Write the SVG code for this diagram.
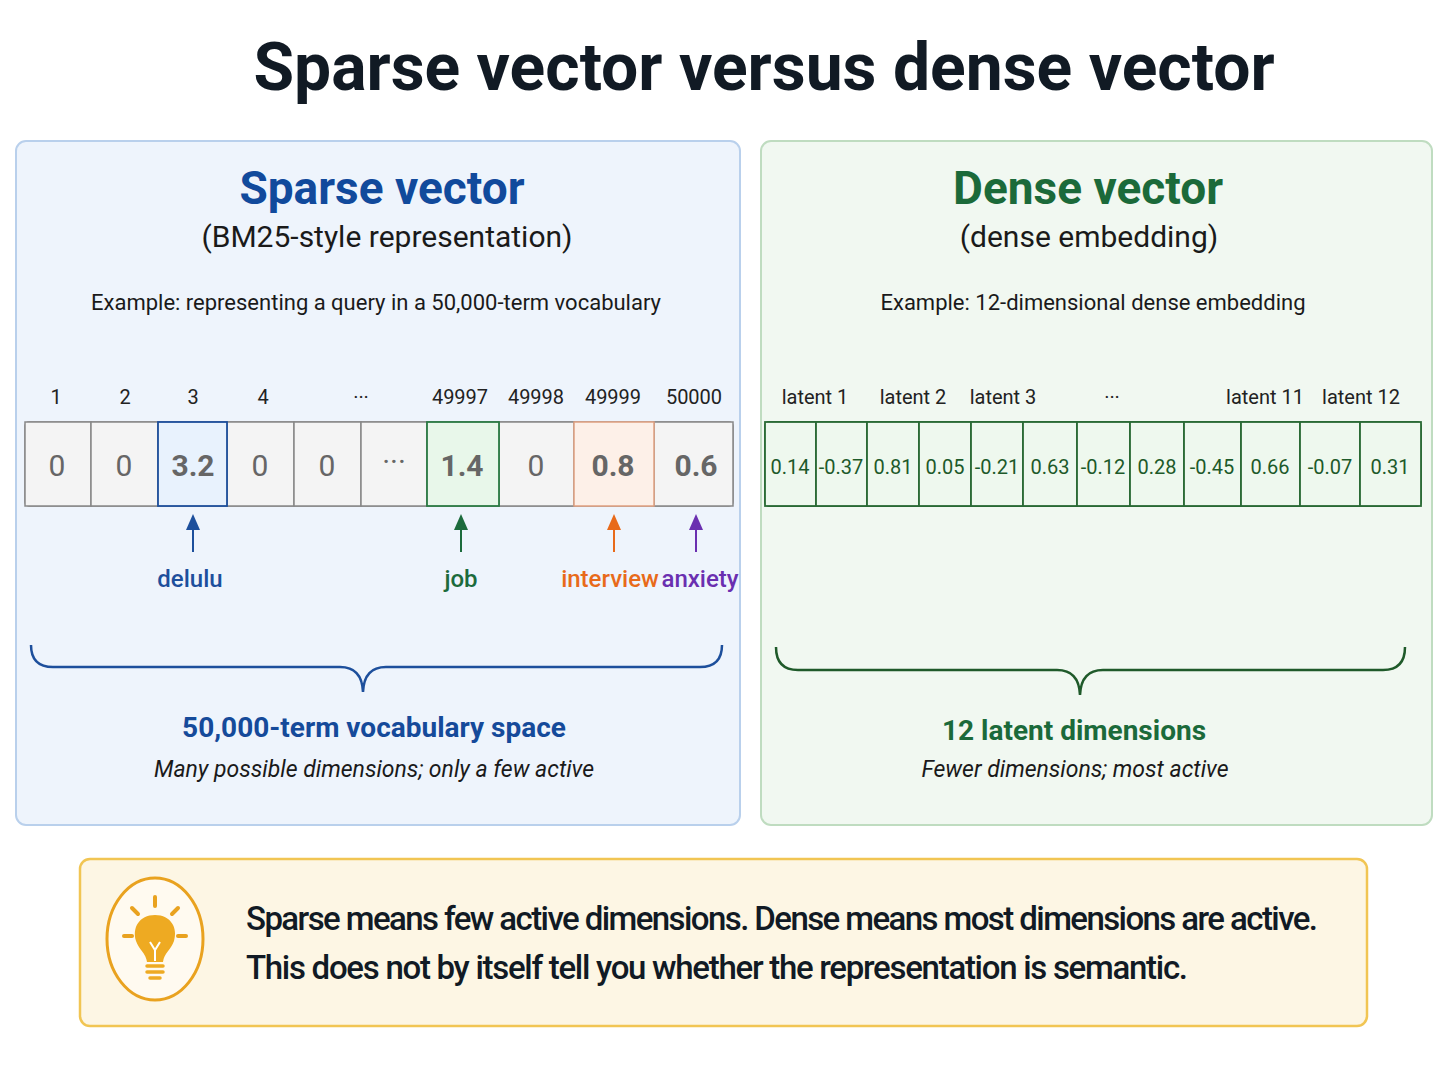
<svg xmlns="http://www.w3.org/2000/svg" width="1448" height="1086" viewBox="0 0 1448 1086">
<style>
text{font-family:Roboto,"Liberation Sans",sans-serif}
.t{fill:#111a24;font-weight:700}
.idx{font-size:20px;fill:#222;text-anchor:middle}
.sc{fill:#f4f4f4;stroke:#888;stroke-width:1.5}
.sv{font-size:30px;text-anchor:middle;fill:#666}
.dc{fill:#eef8ee;stroke:#2a6a35;stroke-width:1.8}
.dv{font-size:20px;text-anchor:middle;fill:#1d5a2a}
.lab{font-size:24px;font-weight:500;text-anchor:middle}
</style>
<rect width="1448" height="1086" fill="#ffffff"/>
<text x="764" y="90" class="t" font-size="66" text-anchor="middle">Sparse vector versus dense vector</text>

<g id="sparse-panel">
<rect x="16" y="141" width="724" height="684" rx="10" fill="#eef4fc" stroke="#b9d0ec" stroke-width="2"/>
<text x="382" y="204" font-size="46" font-weight="700" fill="#114a9c" text-anchor="middle">Sparse vector</text>
<text x="387" y="247" font-size="30" fill="#1a1a1a" text-anchor="middle">(BM25-style representation)</text>
<text x="376" y="310" font-size="22" fill="#1a1a1a" text-anchor="middle">Example: representing a query in a 50,000-term vocabulary</text>
<g>
<text x="56" y="404" class="idx">1</text><text x="125" y="404" class="idx">2</text><text x="193" y="404" class="idx">3</text><text x="263" y="404" class="idx">4</text><text x="361" y="404" class="idx">···</text><text x="460" y="404" class="idx">49997</text><text x="536" y="404" class="idx">49998</text><text x="613" y="404" class="idx">49999</text><text x="694" y="404" class="idx">50000</text>
</g>
<rect x="25" y="422" width="708" height="84" rx="4" class="sc"/>
<rect x="25" y="422" width="66" height="84" class="sc"/>
<rect x="91" y="422" width="67" height="84" class="sc"/>
<rect x="227" y="422" width="67" height="84" class="sc"/>
<rect x="294" y="422" width="67" height="84" class="sc"/>
<rect x="361" y="422" width="66" height="84" class="sc"/>
<rect x="499" y="422" width="75" height="84" class="sc"/>
<rect x="654" y="422" width="79" height="84" class="sc"/>
<rect x="158" y="422" width="69" height="84" fill="#e8f2fd" stroke="#1d4f9c" stroke-width="1.8"/>
<rect x="427" y="422" width="72" height="84" fill="#e8f7ea" stroke="#2b7a44" stroke-width="1.8"/>
<rect x="574" y="422" width="80" height="84" fill="#fdf0e8" stroke="#e0a080" stroke-width="1.5"/>
<text x="57" y="476" class="sv">0</text><text x="124" y="476" class="sv">0</text><text x="260" y="476" class="sv">0</text><text x="327" y="476" class="sv">0</text><text x="394" y="472" class="sv" font-size="22">···</text><text x="536" y="476" class="sv">0</text>
<text x="193" y="476" class="sv" fill="#1d4f9c" font-weight="700">3.2</text>
<text x="462" y="476" class="sv" fill="#1c6b3c" font-weight="700">1.4</text>
<text x="613" y="476" class="sv" fill="#e86a1a" font-weight="700">0.8</text>
<text x="696" y="476" class="sv" fill="#6a2fb0" font-weight="700">0.6</text>
<text x="190" y="587" class="lab" fill="#1d4f9c">delulu</text>
<text x="461" y="587" class="lab" fill="#1c6b3c">job</text>
<text x="610" y="587" class="lab" fill="#e86a1a">interview</text>
<text x="700" y="587" class="lab" fill="#6a2fb0">anxiety</text>
<path d="M31 645 Q31 667 53 667 L340 667 Q362 667 363 692 Q364 667 386 667 L700 667 Q722 667 722 645" fill="none" stroke="#1d4f9c" stroke-width="2.5"/>
<text x="374" y="737" font-size="28" font-weight="700" fill="#154a9a" text-anchor="middle">50,000-term vocabulary space</text>
<text x="374" y="777" font-size="23" font-style="italic" fill="#1a1a1a" text-anchor="middle">Many possible dimensions; only a few active</text>
</g>

<g id="connectors">
<g stroke-width="2">
<line x1="193" y1="552" x2="193" y2="528" stroke="#1d4f9c"/><path d="M186 530 L193 514 L200 530Z" fill="#1d4f9c"/>
<line x1="461" y1="552" x2="461" y2="528" stroke="#1c6b3c"/><path d="M454 530 L461 514 L468 530Z" fill="#1c6b3c"/>
<line x1="614" y1="552" x2="614" y2="528" stroke="#e86a1a"/><path d="M607 530 L614 514 L621 530Z" fill="#e86a1a"/>
<line x1="696" y1="552" x2="696" y2="528" stroke="#6a2fb0"/><path d="M689 530 L696 514 L703 530Z" fill="#6a2fb0"/>
</g>
</g>

<g id="dense-panel">
<rect x="761" y="141" width="671" height="684" rx="10" fill="#f1f8f1" stroke="#bfdcc0" stroke-width="2"/>
<text x="1088" y="204" font-size="46" font-weight="700" fill="#1b6a3a" text-anchor="middle">Dense vector</text>
<text x="1089" y="247" font-size="30" fill="#1a1a1a" text-anchor="middle">(dense embedding)</text>
<text x="1093" y="310" font-size="22" fill="#1a1a1a" text-anchor="middle">Example: 12-dimensional dense embedding</text>
<g font-size="19">
<text x="815" y="404" class="idx" font-size="19">latent 1</text><text x="913" y="404" class="idx" font-size="19">latent 2</text><text x="1003" y="404" class="idx" font-size="19">latent 3</text><text x="1112" y="404" class="idx">···</text><text x="1265" y="404" class="idx" font-size="19">latent 11</text><text x="1361" y="404" class="idx" font-size="19">latent 12</text>
</g>
<rect x="765" y="422" width="656" height="84" rx="4" class="dc"/>
<g class="dcells">
<rect x="765" y="422" width="51" height="84" class="dc"/><rect x="816" y="422" width="51" height="84" class="dc"/><rect x="867" y="422" width="52" height="84" class="dc"/><rect x="919" y="422" width="52" height="84" class="dc"/><rect x="971" y="422" width="52" height="84" class="dc"/><rect x="1023" y="422" width="54" height="84" class="dc"/><rect x="1077" y="422" width="53" height="84" class="dc"/><rect x="1130" y="422" width="54" height="84" class="dc"/><rect x="1184" y="422" width="57" height="84" class="dc"/><rect x="1241" y="422" width="59" height="84" class="dc"/><rect x="1300" y="422" width="60" height="84" class="dc"/><rect x="1360" y="422" width="61" height="84" class="dc"/>
</g>
<text x="790" y="474" class="dv">0.14</text><text x="841" y="474" class="dv">-0.37</text><text x="893" y="474" class="dv">0.81</text><text x="945" y="474" class="dv">0.05</text><text x="997" y="474" class="dv">-0.21</text><text x="1050" y="474" class="dv">0.63</text><text x="1103" y="474" class="dv">-0.12</text><text x="1157" y="474" class="dv">0.28</text><text x="1212" y="474" class="dv">-0.45</text><text x="1270" y="474" class="dv">0.66</text><text x="1330" y="474" class="dv">-0.07</text><text x="1390" y="474" class="dv">0.31</text>
<path d="M776 647 Q776 670 798 670 L1057 670 Q1079 670 1080 695 Q1081 670 1103 670 L1383 670 Q1405 670 1405 647" fill="none" stroke="#1f5a2a" stroke-width="2.5"/>
<text x="1074" y="740" font-size="28" font-weight="700" fill="#1b6a3a" text-anchor="middle">12 latent dimensions</text>
<text x="1075" y="777" font-size="23" font-style="italic" fill="#1a1a1a" text-anchor="middle">Fewer dimensions; most active</text>
</g>

<g id="note">
<rect x="80" y="859" width="1287" height="167" rx="10" fill="#fdf6e4" stroke="#f1c553" stroke-width="2.5"/>
<ellipse cx="155" cy="939" rx="48" ry="61" fill="#fffaf0" stroke="#e9a21f" stroke-width="3"/>
<g stroke="#e9a21f" stroke-width="4" stroke-linecap="round">
<line x1="155" y1="897" x2="155" y2="906"/><line x1="132" y1="908" x2="138" y2="914"/><line x1="178" y1="908" x2="172" y2="914"/><line x1="124" y1="936" x2="132" y2="936"/><line x1="178" y1="936" x2="186" y2="936"/>
</g>
<path d="M155 915 C139 915 132 928 136 941 C139 950 146 953 147 962 L163 962 C164 953 171 950 174 941 C178 928 171 915 155 915Z" fill="#eeaa22"/>
<path d="M150 942 L155 950 L160 942 M155 950 L155 961" stroke="#fff" stroke-width="2" fill="none"/>
<g stroke="#eeaa22" stroke-width="3.5" stroke-linecap="round"><line x1="147" y1="966" x2="163" y2="966"/><line x1="147" y1="972" x2="163" y2="972"/><line x1="150" y1="978" x2="160" y2="978"/></g>
<text x="246" y="930" font-size="33" font-weight="500" fill="#111a24" textLength="1072">Sparse means few active dimensions. Dense means most dimensions are active.</text>
<text x="246" y="979" font-size="33" font-weight="500" fill="#111a24" textLength="942">This does not by itself tell you whether the representation is semantic.</text>
</g>
</svg>
